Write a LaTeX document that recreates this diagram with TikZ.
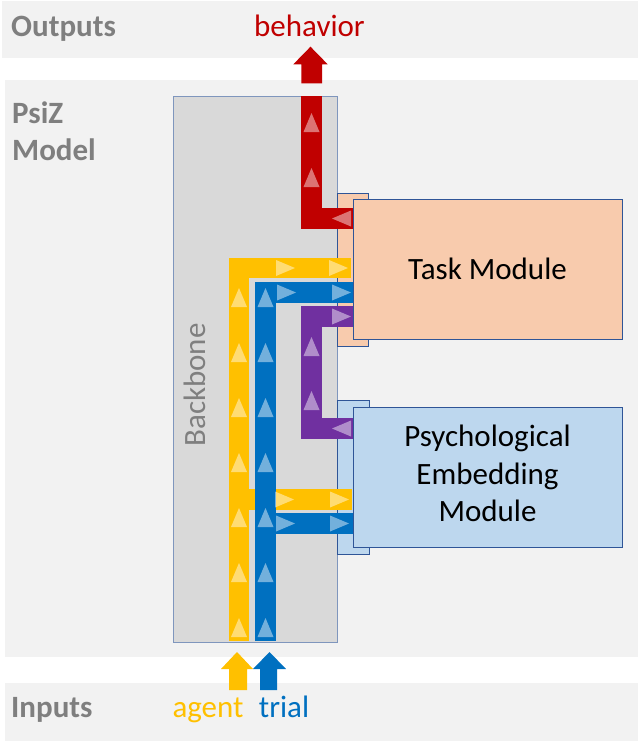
\documentclass[tikz,border=0pt]{standalone}
\usepackage{fontspec}
\setmainfont{Carlito}
\definecolor{band}{HTML}{F2F2F2}
\definecolor{bbfill}{HTML}{D9D9D9}
\definecolor{bbline}{HTML}{7F96BD}
\definecolor{modline}{HTML}{2F5597}
\definecolor{taskfill}{HTML}{F8CBAD}
\definecolor{embfill}{HTML}{BDD7EE}
\definecolor{cred}{HTML}{C00000}
\definecolor{cyel}{HTML}{FFC000}
\definecolor{cblue}{HTML}{0070C0}
\definecolor{cpurp}{HTML}{7030A0}
\definecolor{lbl}{HTML}{7F7F7F}
\newcommand\triUp[2]{\fill[tri] (#1-8,#2) -- (#1+8,#2) -- (#1,#2-19) -- cycle;}
\newcommand\triRt[2]{\fill[tri] (#1-19,#2-8) -- (#1-19,#2+8) -- (#1,#2) -- cycle;}
\newcommand\triLt[2]{\fill[tri] (#1+19,#2-8) -- (#1+19,#2+8) -- (#1,#2) -- cycle;}
\begin{document}
\begin{tikzpicture}[x=1pt,y=-1pt,
  tri/.style={white,fill opacity=0.45},
  bar/.style={line width=20.6pt,line cap=butt,line join=miter},
  modbox/.style={draw=modline,line width=0.9pt,minimum width=269pt,minimum height=140pt,inner sep=0pt,font=\fontsize{31}{37.5}\selectfont,align=center,text=black},
  tabbox/.style={draw=modline,line width=0.9pt},
  head/.style={font=\bfseries\fontsize{31}{37}\selectfont,text=lbl,anchor=base west,inner sep=0pt},
  io/.style={font=\fontsize{31}{37}\selectfont,anchor=base,inner sep=0pt}]
\useasboundingbox (0,0) rectangle (640,742);
\fill[white] (0,0) rectangle (640,742);
% bands
\fill[band] (2,1) rectangle (638,58);
\fill[band] (5,80) rectangle (638,657);
\fill[band] (5,683) rectangle (638,741);
% labels
\node[head] (outputs) at (11,36) {Outputs};
\node[head] (psiz) at (12,123) {PsiZ};
\node[head] (model) at (12,160) {Model};
\node[head] (inputs) at (11,717) {Inputs};
% backbone
\draw[bbline,fill=bbfill,line width=0.9pt] (173,96) rectangle (337,642);
\node[font=\fontsize{31}{37}\selectfont,text=lbl,rotate=90,anchor=base,inner sep=0pt] (backbone) at (205,385) {Backbone};
% tabs behind modules
\draw[tabbox,fill=taskfill] (337,193) rectangle (368,346);
\draw[tabbox,fill=embfill] (337,400) rectangle (369,554);
% bars
\draw[bar,cyel] (239,641) -- (239,268) -- (351,268);
\draw[bar,cyel] (239,499.5) -- (352,499.5);
\draw[bar,cblue] (265.5,641) -- (265.5,292.5) -- (353,292.5);
\draw[bar,cblue] (265.5,523.5) -- (353,523.5);
\draw[bar,cpurp] (353,316.5) -- (311.5,316.5) -- (311.5,428.5) -- (353,428.5);
\draw[bar,cred] (311.5,96) -- (311.5,218.5) -- (353,218.5);
% triangles vertical
\foreach \y in {307,362,417,472,527,582,637} {\triUp{239}{\y}\triUp{265.5}{\y}}
\triUp{311.5}{132}\triUp{311.5}{187}
\triUp{311.5}{356}\triUp{311.5}{410}
% triangles horizontal
\triRt{295}{268}\triRt{348}{268}
\triRt{296}{292.5}\triRt{351}{292.5}
\triRt{351}{316.5}
\triLt{332}{428.5}
\triLt{332}{218.5}
\triRt{294}{499.5}\triRt{349}{499.5}
\triRt{295}{523.5}\triRt{349}{523.5}
% modules
\node[modbox,fill=taskfill] (task) at (487.5,269) {Task Module};
\node[modbox,fill=embfill] (emb) at (487.5,477) {};
\node[font=\fontsize{31}{37.5}\selectfont,align=center,inner sep=0pt] (embtext) at (487.5,473.5) {Psychological\\Embedding\\Module};
% block arrows
\fill[cred] (301.3,83.3) -- (301.3,64.3) -- (293.3,64.3) -- (310.5,46.7) -- (327.7,64.3) -- (322,64.3) -- (322,83.3) -- cycle;
\fill[cyel] (229,690) -- (229,669) -- (221,669) -- (237,652) -- (253,669) -- (247,669) -- (247,690) -- cycle;
\fill[cblue] (260,690) -- (260,669) -- (253,669) -- (269.5,652) -- (286,669) -- (277,669) -- (277,690) -- cycle;
% io labels
\node[io,text=cred] (behavior) at (309.5,36) {behavior};
\node[io,text=cyel] (agent) at (208,717) {agent};
\node[io,text=cblue] (trial) at (284,717) {trial};
\end{tikzpicture}
\end{document}
